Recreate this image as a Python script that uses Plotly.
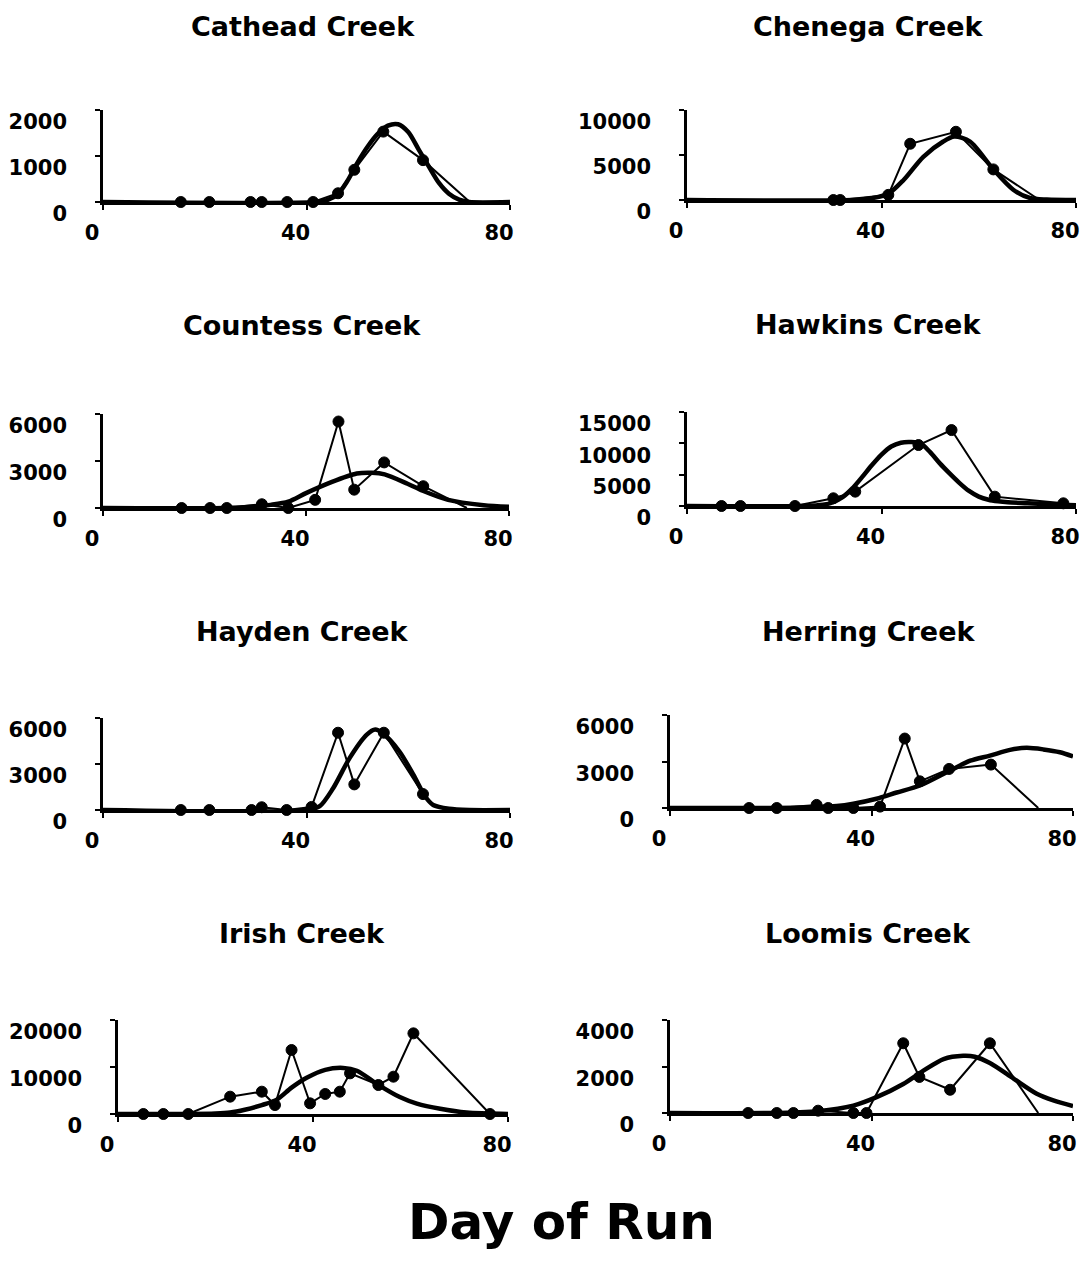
import plotly.graph_objects as go

# ---------------- data (day of run, count) ----------------
cathead_obs_day = [15.3, 20.9, 29.0, 31.2, 36.2, 41.3, 46.2, 49.4, 55.1, 62.9, 72.1]
cathead_obs_val = [0, 0, 0, 0, 0, 0, 190, 700, 1530, 910, 0]
cathead_fit_day = [0, 42, 44, 46, 48, 50, 52, 54, 56, 58, 60, 62, 64, 66, 68, 70, 72, 80]
cathead_fit_val = [0, 0, 40, 150, 450, 850, 1200, 1480, 1660, 1690, 1520, 1150, 780, 420, 180, 50, 0, 0]

chenega_obs_day = [30.1, 31.5, 41.4, 45.9, 55.3, 63.0, 72.5]
chenega_obs_val = [0, 0, 570, 6250, 7580, 3400, 0]
chenega_fit_day = [0, 34, 38, 41.4, 44.5, 48.6, 52.7, 55, 58.2, 63, 67.1, 70.5, 74, 80]
chenega_fit_val = [0, 0, 200, 700, 2200, 4800, 6500, 7050, 6500, 3400, 1140, 230, 50, 0]

countess_obs_day = [15.5, 21.1, 24.4, 31.3, 36.5, 41.8, 46.4, 49.5, 55.4, 63.1, 71.7]
countess_obs_val = [0, 0, 0, 240, 0, 520, 5520, 1170, 2910, 1390, 0]
countess_fit_day = [0, 24, 30, 33, 36.5, 40, 45, 50, 53, 55.5, 60, 63, 68, 75, 80]
countess_fit_val = [0, 0, 100, 200, 400, 950, 1650, 2200, 2250, 2150, 1550, 1100, 520, 180, 80]

hawkins_obs_day = [7.1, 11.0, 22.2, 30.1, 34.6, 47.6, 54.4, 63.3, 77.4]
hawkins_obs_val = [0, 0, 0, 1230, 2290, 9730, 12120, 1490, 430]
hawkins_fit_day = [0, 24, 28, 30, 32, 34, 36, 38, 40, 42, 44, 46, 48, 50, 52, 54, 56, 58, 60, 62, 64, 66, 70, 75, 80]
hawkins_fit_val = [0, 0, 200, 600, 1400, 2800, 4600, 6500, 8200, 9500, 10100, 10200, 10000, 8600, 6800, 5200,
                   3700, 2400, 1500, 1000, 750, 600, 450, 250, 100]

hayden_obs_day = [15.3, 20.9, 29.2, 31.2, 36.1, 41.0, 46.2, 49.4, 55.2, 62.9]
hayden_obs_val = [0, 0, 0, 180, 0, 200, 5040, 1670, 5040, 1040]
hayden_fit_day = [0, 40, 42.6, 45.2, 48.5, 51.8, 53.5, 55, 58.3, 61, 63.3, 64.9, 68, 72, 80]
hayden_fit_val = [0, 0, 250, 1400, 3400, 4900, 5250, 5000, 3800, 2300, 900, 330, 80, 0, 0]

herring_obs_day = [15.7, 21.2, 29.1, 31.4, 36.4, 41.7, 46.6, 49.6, 55.4, 63.7, 73.1]
herring_obs_val = [0, 0, 200, 0, 0, 90, 4480, 1720, 2520, 2800, 0]
herring_fit_day = [0, 21, 28, 33.1, 36.4, 41, 45, 49.6, 55.5, 59.6, 63.5, 67.5, 70.8, 74.1, 77.4, 80]
herring_fit_val = [0, 0, 50, 130, 280, 600, 1000, 1450, 2400, 3050, 3380, 3750, 3880, 3780, 3600, 3330]

irish_obs_day = [5.2, 9.3, 14.4, 23.0, 29.5, 32.2, 35.6, 39.4, 42.5, 45.5, 47.6, 53.4, 56.5, 60.6, 76.3]
irish_obs_val = [0, 0, 0, 3690, 4750, 1910, 13620, 2270, 4260, 4750, 8650, 6170, 7940, 17160, 0]
irish_fit_day = [0, 14.4, 20, 23, 26, 29.5, 32.5, 35.6, 38.7, 42.5, 46.2, 49, 53.4, 57.8, 61.3, 66.1, 71.5, 80]
irish_fit_val = [0, 0, 100, 300, 900, 1900, 3000, 5600, 7700, 9400, 9800, 9200, 6200, 3600, 2200, 1100, 300, 0]

loomis_obs_day = [15.5, 21.2, 24.5, 29.4, 36.4, 39.0, 46.3, 49.5, 55.6, 63.5, 73.1]
loomis_obs_val = [0, 0, 0, 100, 0, 0, 3000, 1550, 1000, 3000, 0]
loomis_fit_day = [0, 20, 29.4, 36.4, 41, 46.3, 50.3, 54.3, 58.2, 60.5, 63.5, 68.2, 72.8, 76.1, 80]
loomis_fit_val = [0, 0, 80, 320, 680, 1250, 1820, 2320, 2460, 2420, 2150, 1480, 830, 540, 300]

creek_names = ["Cathead Creek", "Chenega Creek", "Countess Creek", "Hawkins Creek",
               "Hayden Creek", "Herring Creek", "Irish Creek", "Loomis Creek"]
y_tickvals = [[0, 1000, 2000], [0, 5000, 10000], [0, 3000, 6000], [0, 5000, 10000, 15000],
              [0, 3000, 6000], [0, 3000, 6000], [0, 10000, 20000], [0, 2000, 4000]]
x_tickvals = [0, 40, 80]
x_title = "Day of Run"

obs_days = [cathead_obs_day, chenega_obs_day, countess_obs_day, hawkins_obs_day,
            hayden_obs_day, herring_obs_day, irish_obs_day, loomis_obs_day]
obs_vals = [cathead_obs_val, chenega_obs_val, countess_obs_val, hawkins_obs_val,
            hayden_obs_val, herring_obs_val, irish_obs_val, loomis_obs_val]
fit_days = [cathead_fit_day, chenega_fit_day, countess_fit_day, hawkins_fit_day,
            hayden_fit_day, herring_fit_day, irish_fit_day, loomis_fit_day]
fit_vals = [cathead_fit_val, chenega_fit_val, countess_fit_val, hawkins_fit_val,
            hayden_fit_val, herring_fit_val, irish_fit_val, loomis_fit_val]
# whether the last observed point is an unmarked line end
last_unmarked = [True, True, True, False, False, True, False, True]

# ---------------- layout (pixel geometry, in page coordinates) ----------------
PAGE_W, PAGE_H = 1088, 1263
OFF = 8  # default body margin of the html page
W, H = PAGE_W - OFF, PAGE_H - OFF
# left, right, top, bottom of each plot area; title centre
boxes = [(103, 510, 110, 202, 303, 26), (687, 1076, 110, 200, 868, 26),
         (103, 509, 414, 508, 302, 326), (687, 1076, 412, 506, 868, 324),
         (103, 510, 718, 810, 302, 631), (670, 1073, 715, 808, 868, 631),
         (118, 508, 1020, 1114, 302, 933), (670, 1073, 1020, 1113, 868, 933)]


def px(xp):
    return (xp - OFF) / W


def py(yp):
    return 1 - (yp - OFF) / H


FONT = "DejaVu Sans"
INK = "#000000"

fig = go.Figure()
annotations = []
for i in range(8):
    l, r, t, b, tx, ty = boxes[i]
    xa = "x" if i == 0 else f"x{i+1}"
    ya = "y" if i == 0 else f"y{i+1}"
    n = len(obs_days[i])
    sizes = [11] * n
    if last_unmarked[i]:
        sizes[-1] = 0
    fig.add_trace(go.Scatter(x=fit_days[i], y=fit_vals[i], mode="lines",
                             line=dict(color=INK, width=4.5, shape="spline", smoothing=0.8),
                             xaxis=xa, yaxis=ya, cliponaxis=False, showlegend=False,
                             hoverinfo="skip"))
    fig.add_trace(go.Scatter(x=obs_days[i], y=obs_vals[i], mode="lines+markers",
                             line=dict(color=INK, width=2),
                             marker=dict(color=INK, size=sizes, opacity=1,
                                         line=dict(color=INK, width=1)),
                             xaxis=xa, yaxis=ya, cliponaxis=False, showlegend=False))
    axis_common = dict(showline=True, linecolor=INK, linewidth=2.5, ticks="outside",
                       ticklen=5, tickwidth=2, tickcolor=INK, showgrid=False, zeroline=False,
                       automargin=False,
                       tickfont=dict(family=FONT, size=21, color=INK, weight="bold"))
    xkey = "xaxis" if i == 0 else f"xaxis{i+1}"
    ykey = "yaxis" if i == 0 else f"yaxis{i+1}"
    fig.layout[xkey] = dict(domain=[px(l), px(r)], range=[0, 80], tickvals=x_tickvals,
                            anchor=ya, ticklabelshift=-11, ticklabelstandoff=5, **axis_common)
    ymax = y_tickvals[i][-1]
    fig.layout[ykey] = dict(domain=[py(b), py(t)], range=[0, ymax],
                            tickvals=y_tickvals[i], ticktext=[str(v) for v in y_tickvals[i]],
                            anchor=xa, ticklabelshift=12, ticklabelstandoff=24, **axis_common)
    annotations.append(dict(text=f"<b>{creek_names[i]}</b>", x=px(tx), y=py(ty),
                            xref="paper", yref="paper", xanchor="center", yanchor="middle",
                            showarrow=False, font=dict(family=FONT, size=27, color=INK)))

annotations.append(dict(text=f"<b>{x_title}</b>", x=px(561), y=py(1222),
                        xref="paper", yref="paper", xanchor="center", yanchor="middle",
                        showarrow=False, font=dict(family=FONT, size=50, color=INK)))

fig.update_layout(width=W, height=H, margin=dict(l=0, r=0, t=0, b=0, autoexpand=False),
                  paper_bgcolor="white", plot_bgcolor="white",
                  annotations=annotations)

fig.write_html("out.html")
